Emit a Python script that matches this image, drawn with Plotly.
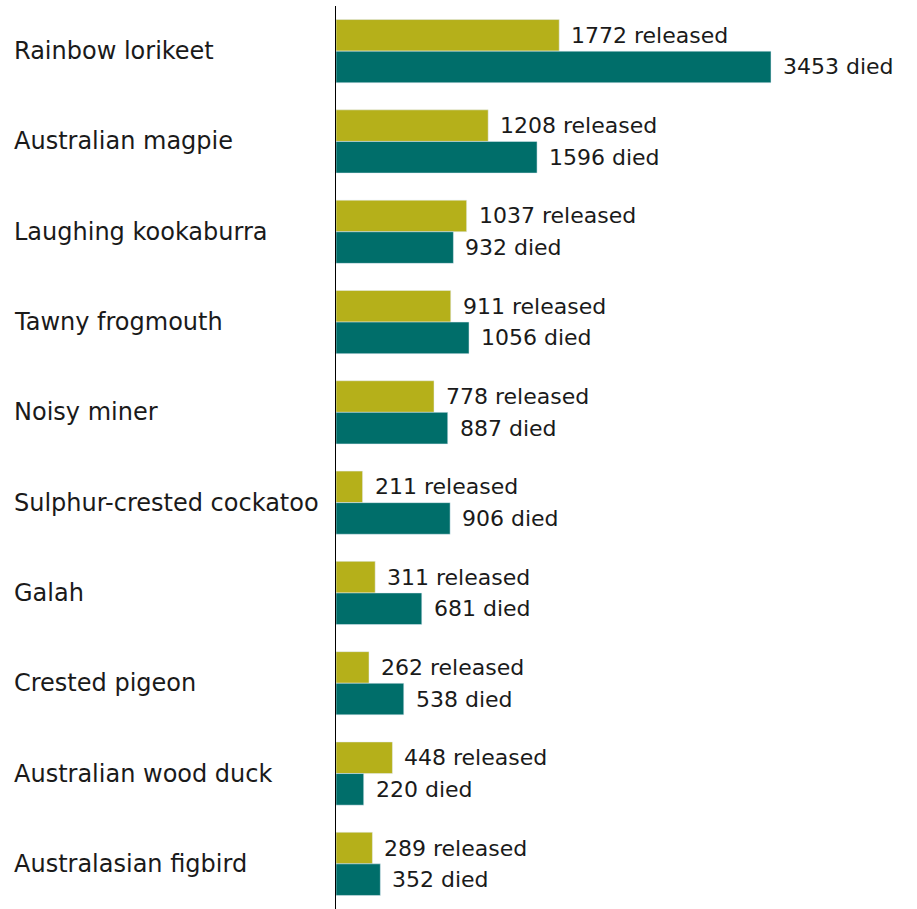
import plotly.graph_objects as go

species = ["Rainbow lorikeet", "Australian magpie", "Laughing kookaburra", "Tawny frogmouth",
           "Noisy miner", "Sulphur-crested cockatoo", "Galah", "Crested pigeon",
           "Australian wood duck", "Australasian figbird"]
released = [1772, 1208, 1037, 911, 778, 211, 311, 262, 448, 289]
died = [3453, 1596, 932, 1056, 887, 906, 681, 538, 220, 352]

OLIVE = "#b5b01a"
TEAL = "#006e6a"
FONT = "DejaVu Sans"
SIZE = 24
VSIZE = 22
TXT = "#1a1a1a"

fig = go.Figure()
fig.add_trace(go.Bar(y=species, x=released, orientation="h", marker_color=OLIVE,
                     name="released", hoverinfo="skip"))
fig.add_trace(go.Bar(y=species, x=died, orientation="h", marker_color=TEAL,
                     name="died", hoverinfo="skip"))

ann = []
for i, s in enumerate(species):
    ann.append(dict(x=0, xref="paper", y=s, yref="y", text=s, showarrow=False,
                    xanchor="left", xshift=-324, font=dict(family=FONT, size=SIZE, color=TXT)))
    ann.append(dict(x=released[i], xref="x", y=i - 0.175, yref="y", text=f"{released[i]} released",
                    showarrow=False, xanchor="left", xshift=10,
                    font=dict(family=FONT, size=VSIZE, color=TXT)))
    ann.append(dict(x=died[i], xref="x", y=i + 0.175, yref="y", text=f"{died[i]} died",
                    showarrow=False, xanchor="left", xshift=10,
                    font=dict(family=FONT, size=VSIZE, color=TXT)))

fig.update_layout(
    width=917, height=909,
    margin=dict(l=336, r=0, t=6, b=0),
    barmode="group", bargap=0.3, bargroupgap=0,
    plot_bgcolor="white", paper_bgcolor="white",
    showlegend=False,
    annotations=ann,
    xaxis=dict(range=[0, 4612], showgrid=False, zeroline=False, showticklabels=False,
               showline=False, fixedrange=True),
    yaxis=dict(autorange="reversed", showgrid=False, zeroline=False, showticklabels=False,
               showline=True, linecolor="black", linewidth=1, ticks=""),
)
fig.write_html("out.html")
